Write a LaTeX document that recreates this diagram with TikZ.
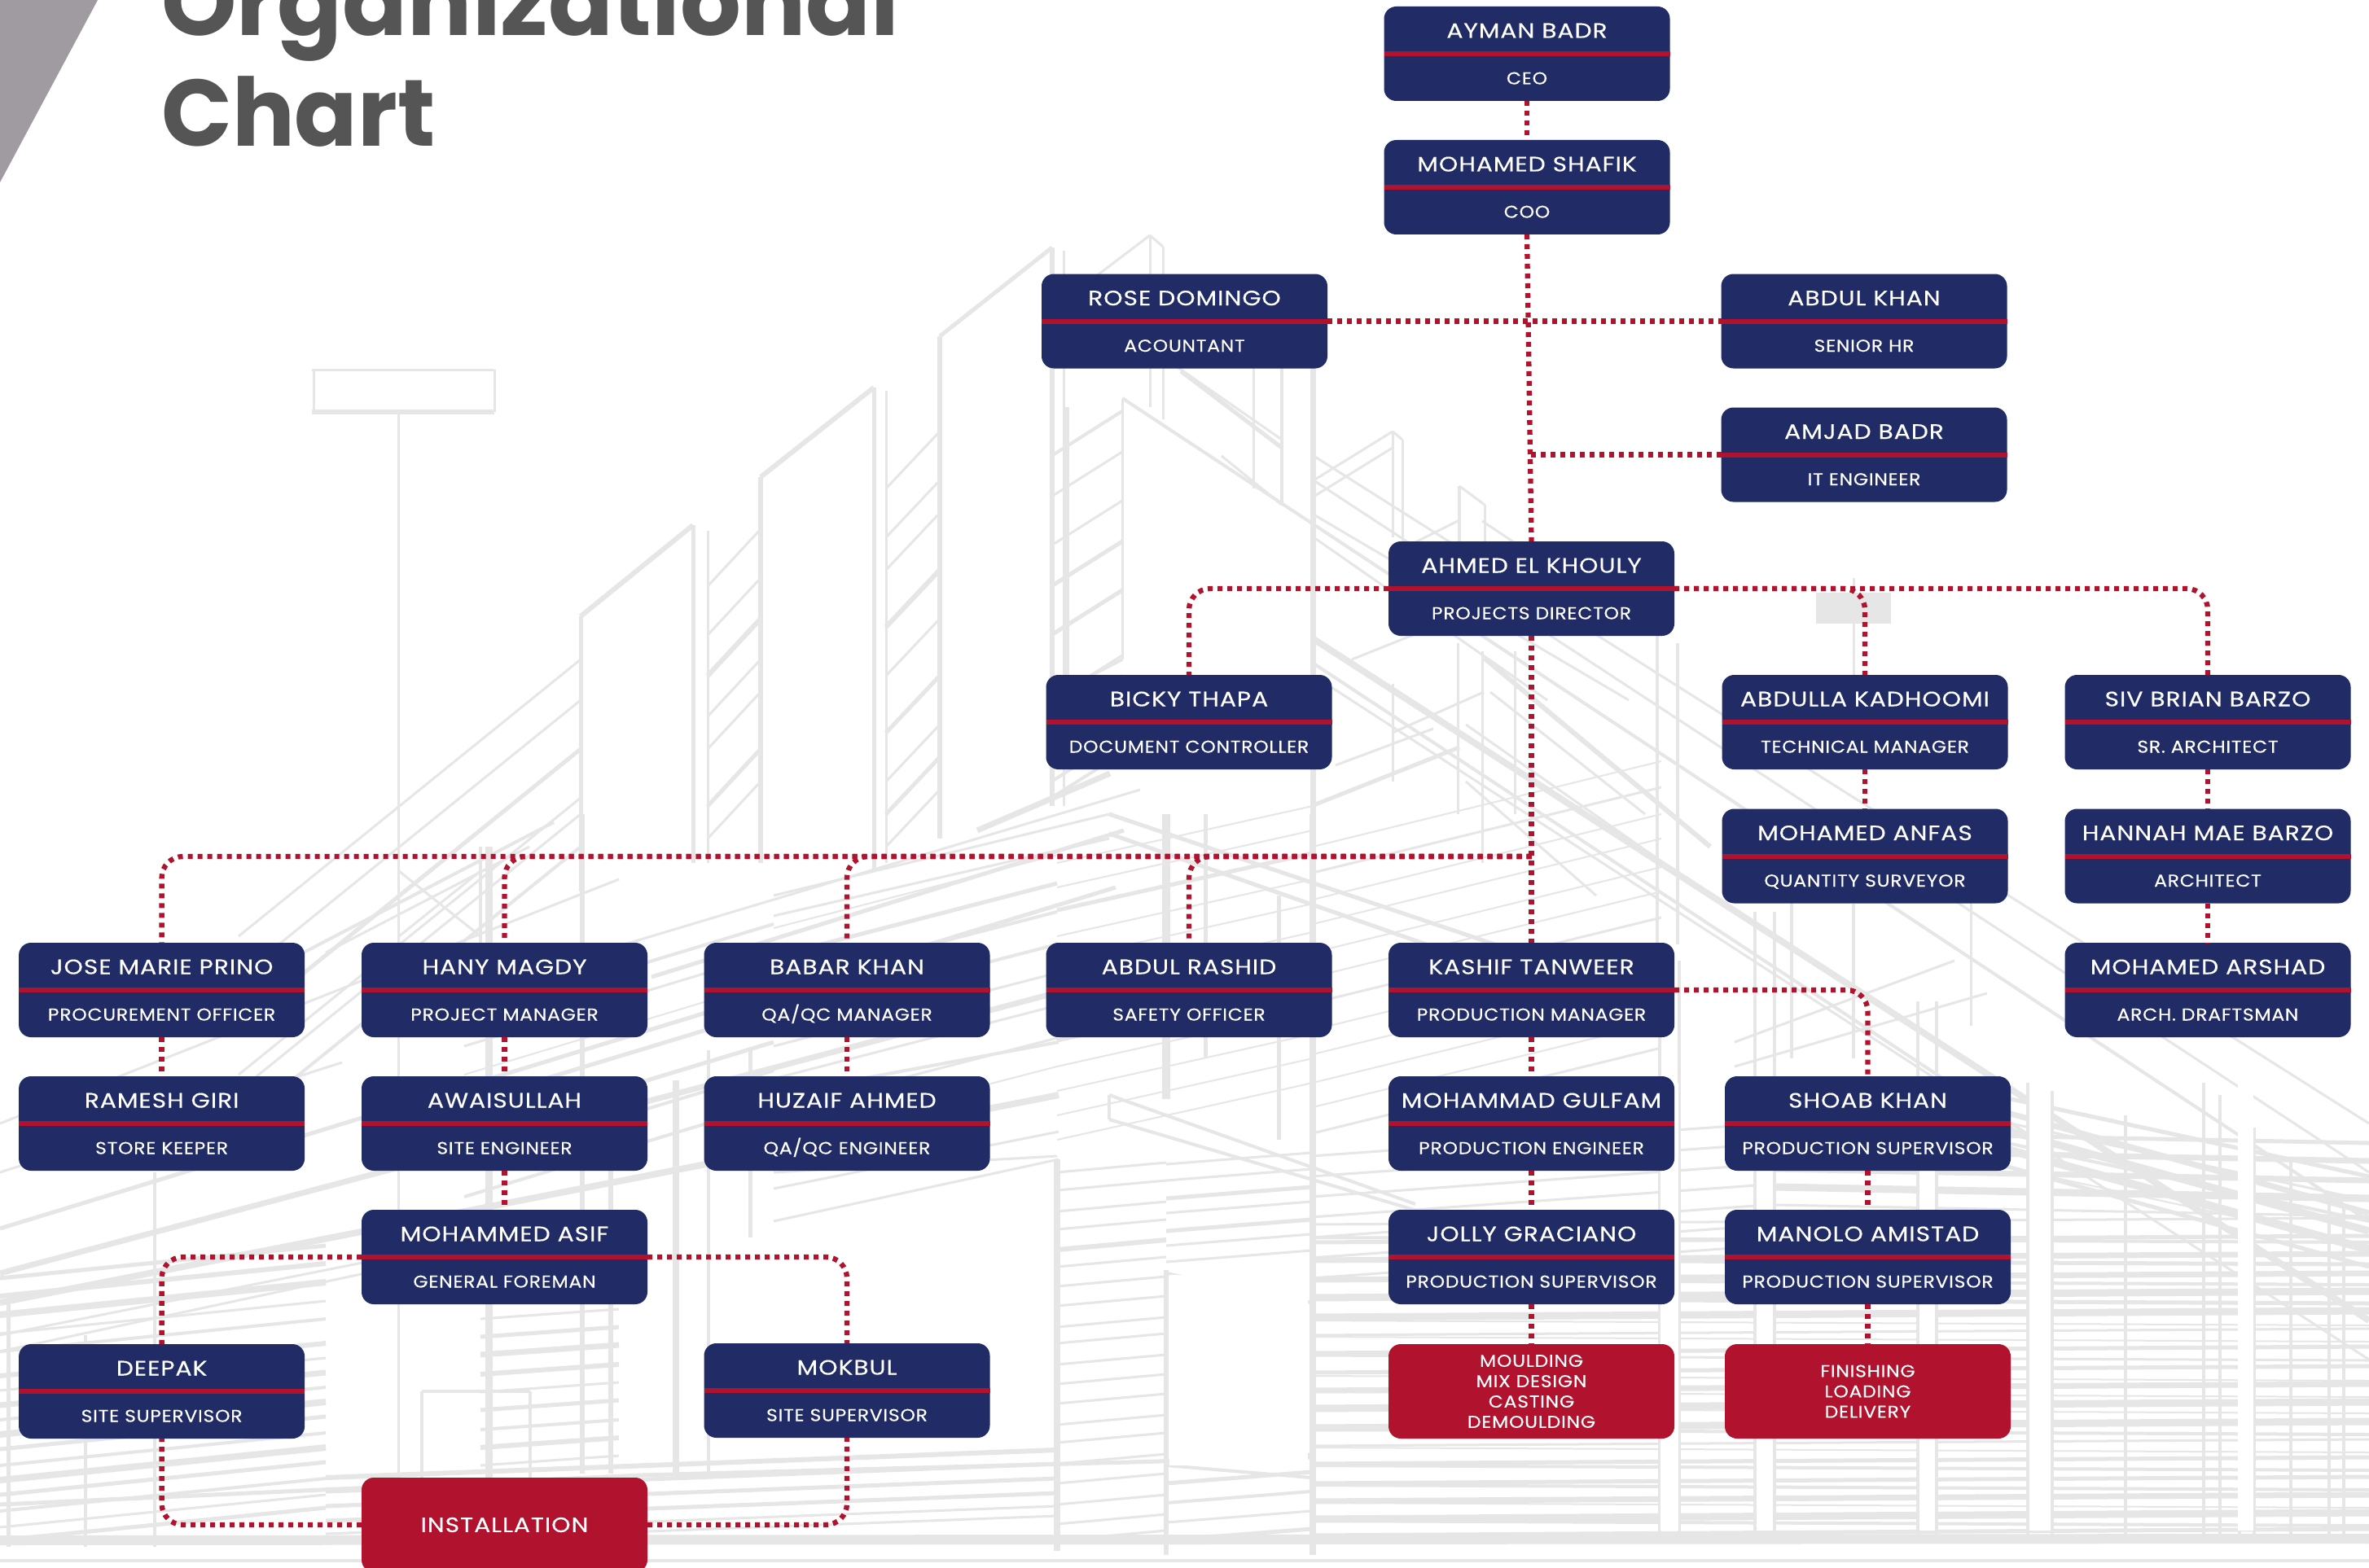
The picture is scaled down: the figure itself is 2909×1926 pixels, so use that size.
\documentclass[tikz,border=0pt]{standalone}
\usepackage{fontspec}
\setmainfont{Poppins}
\newfontfamily\boxfont{Poppins}[FakeStretch=1.17,LetterSpace=3.6,FakeBold=0.25]
\newfontfamily\rolefont{Poppins}[FakeStretch=1.12,LetterSpace=3.4,FakeBold=0.25]
\usetikzlibrary{backgrounds}
\definecolor{navy}{HTML}{212C66}
\definecolor{crim}{HTML}{B1132E}
\definecolor{bgrey}{HTML}{E6E6E6}
\definecolor{titlegrey}{HTML}{555555}
\definecolor{wedge}{HTML}{A09AA1}
\tikzset{
  boxshape/.style={inner sep=0pt,outer sep=0pt,minimum width=351pt,minimum height=116pt,rounded corners=15pt},
  navybox/.style={boxshape,fill=navy},
  redbox/.style={boxshape,fill=crim},
  nametext/.style={text=white,anchor=base,inner sep=0pt,font=\boxfont\fontsize{25.5}{30}\selectfont},
  roletext/.style={text=white,anchor=base,inner sep=0pt,font=\rolefont\fontsize{21}{25}\selectfont},
  tasktext/.style={text=white,align=center,inner sep=0pt,font=\rolefont\fontsize{21}{25}\selectfont},
  titletext/.style={text=titlegrey,anchor=base west,inner sep=0pt,font=\fontsize{116}{130}\bfseries},
  link/.style={draw=crim,line width=6.3pt,dash pattern=on 6pt off 6pt},
  curved link/.style={link,rounded corners=26pt},
  bgl/.style={draw=bgrey,line cap=butt}
}
\newcommand\obox[5]{%
  \node[navybox] (#1) at (#2,#3+58) {};
  \fill[crim] ([yshift=3pt]#1.west) rectangle ([yshift=-3pt]#1.east);
  \node[nametext] (#1-n) at (#2,#3+38.5) {#4};
  \node[roletext] (#1-r) at (#2,#3+95.5) {#5};
}
\begin{document}
\begin{tikzpicture}[x=1pt,y=-1pt]
\useasboundingbox (0,0) rectangle (2909,1926);
\fill[white] (0,0) rectangle (2909,1926);
\clip (0,0) rectangle (2909,1926);
% ---------- background wireframe
\foreach \y in {1300,1322,1345,1366,1390,1412,1436,1458,1480,1504,1526,1548,1572,1594,1618,1640,1662,1686,1708,1730,1754,1776,1798,1822,1844,1866,1886}{
  \pgfmathsetmacro\w{3+mod(\y*7,8)}
  \ifdim\y pt>1500pt \draw[bgl,line width=\w pt] (1610,\y) -- (2909,\y-8);
  \else\ifdim\y pt>1380pt \draw[bgl,line width=\w pt] (2180,\y) -- (2909,\y+14);
  \else \draw[bgl,line width=\w pt] (2440,\y+60) -- (2909,\y+190);
  \fi\fi
}
\foreach \y in {1510,1537,1562,1585,1612,1632,1655,1680,1700,1720,1746,1768,1790,1814,1836,1858,1878}{
  \pgfmathsetmacro\w{2+mod(\y*3,4)}
  \draw[bgl,line width=\w pt] (1610,\y+10) -- (2909,\y+16);
}
\foreach \y in {1395,1425,1450,1480}{
  \pgfmathsetmacro\w{2+mod(\y,4)}
  \draw[bgl,line width=\w pt] (2400,\y-60) -- (2909,\y+50);
}
\foreach \y in {1420,1445,1470,1495,1520,1545,1570}{
  \pgfmathsetmacro\w{3+mod(\y*3,5)}
  \draw[bgl,line width=\w pt] (1610,\y) -- (2170,\y-40);
}
\foreach \y in {1040,1072,1105,1135,1170,1200,1232,1265,1295,1330,1360,1392}{
  \pgfmathsetmacro\w{2+mod(\y*3,5)}
  \draw[bgl,line width=\w pt] (1612,\y) -- (2040,\y-105);
}
\foreach \y in {1060,1090,1118,1150,1180,1215,1245,1278,1310,1340,1370,1400}{
  \pgfmathsetmacro\w{2+mod(\y,5)}
  \draw[bgl,line width=\w pt] (1298,\y) -- (1612,\y-70);
}
\foreach \y in {1140,1175,1210,1250,1285,1325,1365,1400}{
  \pgfmathsetmacro\w{2+mod(\y,4)}
  \draw[bgl,line width=\w pt] (950,\y) -- (1298,\y-90);
}
\foreach \y in {1250,1285,1320,1355,1395,1430,1470}{
  \pgfmathsetmacro\w{2+mod(\y,4)}
  \draw[bgl,line width=\w pt] (570,\y) -- (950,\y-115);
}
\foreach \y in {1440,1462,1488,1510,1535,1556,1580,1604,1630,1650,1676,1700,1724,1750,1772,1798,1822,1848,1872,1892}{
  \pgfmathsetmacro\w{3+mod(\y*3,6)}
  \draw[bgl,line width=\w pt] (1298,\y) -- (1432,\y-12);
}
\foreach \y in {1430,1450,1472,1490,1512,1530,1550,1800,1822,1846,1870,1892}{
  \pgfmathsetmacro\w{3+mod(\y,5)}
  \draw[bgl,line width=\w pt] (1432,\y) -- (1610,\y-14);
}
\foreach \y in {1570,1592,1615,1638,1660,1690,1708,1726,1744,1762,1780,1800,1818,1836,1856,1876,1892}{
  \pgfmathsetmacro\w{3+mod(\y,7)}
  \draw[bgl,line width=\w pt] (0,\y) -- (400,\y-40);
}
\foreach \y in {1620,1642,1664,1688,1710,1732,1756,1778,1800}{
  \pgfmathsetmacro\w{3+mod(\y,5)}
  \draw[bgl,line width=\w pt] (590,\y) -- (760,\y-12);
}
\foreach \y in {1815,1832,1850,1868,1884,1896}{
  \pgfmathsetmacro\w{3+mod(\y,6)}
  \draw[bgl,line width=\w pt] (400,\y) -- (1298,\y-34);
}
\foreach \w/\a/\b/\c/\d in {
 3/383/454/607/454, 6/383/506/607/506, 3/385/454/385/506, 3/607/454/607/506, 3/489/506/489/1900,
 6/713/757/851/645, 5/713/757/713/1095, 5/851/645/851/1060, 3/869/652/869/1060,
 6/934/586/1073/476, 6/934/586/934/1060, 5/1073/476/1073/1070, 3/1088/480/1088/1060,
 5/1154/413/1292/304, 6/1154/413/1154/1030, 6/1292/304/1292/990, 3/1306/308/1306/990,
 3/1412/289/1412/500, 3/1412/289/1428/303, 3/1428/303/1428/515, 3/1412/289/1345/340,
 3/1378/490/1378/810, 7/1309/500/1309/840, 5/1291/440/1291/830,
 7/1612/444/1612/1910, 4/1574/444/1574/620, 3/1539/444/1539/600,
 4/1378/489/2909/1500, 3/1613/590/2909/1440, 3/1613/560/2909/1380, 8/1613/785/2909/1622,
 3/1613/830/2909/1670, 4/1613/815/2500/1400,
 3/1613/632/2000/860, 3/1613/660/1900/860,
 3/1430/440/1574/540, 5/1450/456/1574/550, 3/1574/620/1500/560,
 3/1710/530/1613/590, 3/1710/550/1613/610, 3/1710/530/1710/660, 3/1722/540/1722/665, 3/1710/530/1722/540,
 4/1792/597/1792/670, 3/1792/597/1823/620, 3/1823/620/1823/665, 3/1820/640/1880/680, 3/1790/640/1710/680,
 7/1200/1020/1363/950, 4/1378/810/1300/850, 4/1291/880/1378/830, 4/1291/960/1378/905,
 5/1613/989/1792/918, 3/1640/940/1760/895, 3/1660/810/1760/770, 3/1822/850/1710/900,
 3/1820/800/1820/1060, 4/2035/780/2035/1170, 4/2060/790/2060/1160, 6/1821/807/2100/1040, 3/1830/850/2020/1000,
 3/1800/890/2100/1100, 3/1800/960/1960/1100, 3/1860/800/1860/1000, 3/1710/840/1710/960, 3/1790/790/1790/1000,
 3/2276/710/2276/829, 4/2276/1110/2276/1300, 3/2100/1100/2440/1320, 4/2200/1100/2200/1300, 3/2420/1090/2420/1260,
 3/2130/1280/2400/1180, 3/2130/1310/2440/1220,
 5/1362/1000/1883/1176, 5/1362/1024/1883/1206, 4/1362/1345/1738/1479, 4/1362/1375/1750/1490, 4/1362/1345/1362/1375,
 5/0/1509/1370/1090, 7/0/1564/1370/1200, 3/0/1440/420/1305, 3/0/1380/760/1080, 4/200/1260/680/1010, 3/400/1170/650/1040,
 3/700/1180/1400/970, 5/800/1200/1380/1020, 3/950/1100/1362/1000, 3/950/1125/1362/1030,
 8/0/1600/1300/1345, 3/0/1640/700/1500, 3/0/1660/560/1540, 5/0/1848/788/1812, 5/788/1812/1610/1790, 3/950/1440/1298/1420,
 4/950/1345/1300/1280, 3/950/1460/1300/1390, 3/950/1500/1300/1424,
 3/490/1070/590/1150, 3/490/1150/590/1070, 4/590/1040/590/1160,
 4/190/1440/190/1900, 5/10/1600/10/1900, 4/105/1640/105/1900,
 9/600/1040/600/1900, 6/715/1000/715/1810, 6/750/1400/750/1810, 8/830/1327/830/1810, 4/518/1709/518/1830, 4/518/1709/651/1709, 4/651/1709/651/1830,
 5/921/1290/921/1520, 4/870/1290/870/1810,
 8/1298/1424/1298/1905, 10/1432/1000/1432/1350, 6/1432/1560/1432/1910, 5/1480/1000/1480/1300, 5/1570/1100/1570/1400,
 4/1432/1564/1610/1600, 4/1432/1800/1610/1815, 5/1610/1000/1610/1910,
 4/2038/1180/2038/1890, 4/2062/1180/2062/1890, 4/2155/1120/2155/1890, 4/2179/1120/2179/1890, 4/2355/1230/2355/1890, 4/2378/1230/2378/1890,
 4/2490/1330/2490/1890, 4/2520/1340/2520/1890, 4/2610/1370/2610/1890, 4/2706/1330/2706/1890, 4/2726/1345/2726/1890, 4/2750/1370/2750/1890, 4/2768/1385/2768/1890, 4/2813/1425/2813/1890, 4/2860/1465/2860/1890, 4/2878/1480/2878/1890,
 12/0/1892/2909/1890, 4/0/1917/2909/1917
}{\draw[bgl,line width=\w pt] (\a,\b) -- (\c,\d);}
% diagonal hatching between the towers
\foreach \y/\w in {810/3,860/3,920/5,980/3,1000/3,1040/4}{\draw[bgl,line width=\w pt] (713,\y) -- ++(-420,340);}
\foreach \y/\w in {720/3,780/3,830/6,880/3,920/3,990/5,1030/3}{\draw[bgl,line width=\w pt] (869,\y) -- (934,\y-70);}
\foreach \y/\w in {600/3,660/3,700/3,770/6,830/3,900/5,960/3,1000/5,1040/3}{\draw[bgl,line width=\w pt] (1088,\y) -- (1154,\y-70);}
\foreach \y/\w in {560/4,610/3,670/3,720/5,780/5,860/3,930/3,980/4}{\draw[bgl,line width=\w pt] (1291,\y) -- (1378,\y-55);}
% white gaps in the lower frame
\foreach \x/\w in {2050/22,2167/20,2366/19,2505/26,2757/19}{\fill[white] (\x-\w/2,1330) rectangle (\x+\w/2,1880);}
\fill[white] (1436,1566) rectangle (1606,1800);
\fill[bgrey] (2230,728) rectangle (2322,766);
\fill[wedge] (0,0) -- (120,0) -- (0,224) -- cycle;
% ---------- title
\node[titletext] (title1) at (198,44) {\scalebox{1.014}[1]{Organizational}};
\node[titletext] (title2) at (198,180) {\scalebox{0.983}[1]{Chart}};
% ---------- boxes
\obox{ayman}{1875}{8}{AYMAN BADR}{CEO}
\obox{shafik}{1875}{172}{MOHAMED SHAFIK}{COO}
\obox{rose}{1454.5}{336.5}{ROSE DOMINGO}{ACOUNTANT}
\obox{khan}{2289}{336.5}{ABDUL KHAN}{SENIOR HR}
\obox{amjad}{2289}{500.5}{AMJAD BADR}{IT ENGINEER}
\obox{ahmed}{1880.5}{665}{AHMED EL KHOULY}{PROJECTS DIRECTOR}
\obox{bicky}{1460}{829}{BICKY THAPA}{DOCUMENT CONTROLLER}
\obox{abdulla}{2290}{829}{ABDULLA KADHOOMI}{TECHNICAL MANAGER}
\obox{siv}{2711}{829}{SIV BRIAN BARZO}{SR. ARCHITECT}
\obox{anfas}{2290}{993.5}{MOHAMED ANFAS}{QUANTITY SURVEYOR}
\obox{hannah}{2711}{993.5}{HANNAH MAE BARZO}{ARCHITECT}
\obox{jose}{198.6}{1158}{JOSE MARIE PRINO}{PROCUREMENT OFFICER}
\obox{hany}{619.5}{1158}{HANY MAGDY}{PROJECT MANAGER}
\obox{babar}{1040}{1158}{BABAR KHAN}{QA/QC MANAGER}
\obox{rashid}{1460}{1158}{ABDUL RASHID}{SAFETY OFFICER}
\obox{kashif}{1880.5}{1158}{KASHIF TANWEER}{PRODUCTION MANAGER}
\obox{arshad}{2711}{1158}{MOHAMED ARSHAD}{ARCH. DRAFTSMAN}
\obox{ramesh}{198.6}{1322}{RAMESH GIRI}{STORE KEEPER}
\obox{awais}{619.5}{1322}{AWAISULLAH}{SITE ENGINEER}
\obox{huzaif}{1040}{1322}{HUZAIF AHMED}{QA/QC ENGINEER}
\obox{gulfam}{1880.5}{1322}{MOHAMMAD GULFAM}{PRODUCTION ENGINEER}
\obox{shoab}{2293.5}{1322}{SHOAB KHAN}{PRODUCTION SUPERVISOR}
\obox{asif}{619.5}{1486}{MOHAMMED ASIF}{GENERAL FOREMAN}
\obox{jolly}{1880.5}{1486}{JOLLY GRACIANO}{PRODUCTION SUPERVISOR}
\obox{manolo}{2293.5}{1486}{MANOLO AMISTAD}{PRODUCTION SUPERVISOR}
\obox{deepak}{198.6}{1651}{DEEPAK}{SITE SUPERVISOR}
\obox{mokbul}{1040}{1650}{MOKBUL}{SITE SUPERVISOR}
\node[redbox] (mould) at (1880.5,1709) {};
\node[tasktext] (mould-t) at (mould.center) {MOULDING\\MIX DESIGN\\CASTING\\DEMOULDING};
\node[redbox] (finish) at (2293.5,1709) {};
\node[tasktext] (finish-t) at (finish.center) {FINISHING\\LOADING\\DELIVERY};
\node[redbox] (install) at (619.5,1873) {};
\node[nametext,anchor=center] (install-t) at (install.center) {INSTALLATION};
% ---------- connectors
\coordinate (amjadjoin) at (1879,558.5);
\coordinate (hub) at (1880.5,1052);
\draw[link] (ayman.south) -- (shafik.north);
\draw[link] (shafik.south) -- (ahmed.north);
\draw[link] (rose.east) -- (khan.west);
\draw[link] (amjad.west) -- (amjadjoin);
\draw[curved link] (ahmed.west) -| (bicky.north);
\draw[curved link] (ahmed.east) -| (abdulla.north);
\draw[curved link] (ahmed.east) -| (siv.north);
\draw[link] (ahmed.south) -- (kashif.north);
\draw[link] (abdulla.south) -- (anfas.north);
\draw[link] (siv.south) -- (hannah.north);
\draw[link] (hannah.south) -- (arshad.north);
\draw[curved link] (hub) -| (jose.north);
\draw[curved link] (hub) -| (hany.north);
\draw[curved link] (hub) -| (babar.north);
\draw[curved link] (hub) -| (rashid.north);
\draw[link] (jose.south) -- (ramesh.north);
\draw[link] (hany.south) -- (awais.north);
\draw[link] (babar.south) -- (huzaif.north);
\draw[link] (kashif.south) -- (gulfam.north);
\draw[link] (gulfam.south) -- (jolly.north);
\draw[link] (jolly.south) -- (mould.north);
\draw[curved link] (kashif.east) -| (shoab.north);
\draw[link] (shoab.south) -- (manolo.north);
\draw[link] (manolo.south) -- (finish.north);
\draw[link] (awais.south) -- (asif.north);
\draw[curved link] (asif.west) -| (deepak.north);
\draw[curved link] (asif.east) -| (mokbul.north);
\draw[curved link] (install.west) -| (deepak.south);
\draw[curved link] (install.east) -| (mokbul.south);
\end{tikzpicture}
\end{document}
